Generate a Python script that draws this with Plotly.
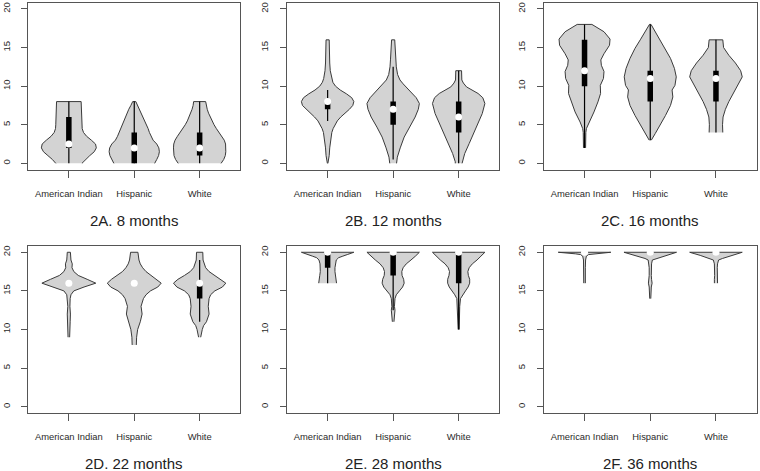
import plotly.graph_objects as go

groups = ["American Indian", "Hispanic", "White"]
panel_titles = ["2A. 8 months", "2B. 12 months", "2C. 16 months",
                "2D. 22 months", "2E. 28 months", "2F. 36 months"]
y_ticks = [0, 5, 10, 15, 20]

# Density profiles: (score, relative density 0..1)
A_american_indian = [(0, 0.5), (0.5, 0.63), (1, 0.8), (1.5, 0.97), (2, 1.05), (2.5, 1.02), (3, 0.86), (3.5, 0.68),
                     (4, 0.56), (4.5, 0.51), (5, 0.5), (6, 0.49), (7, 0.48), (8, 0.47)]
A_hispanic = [(0, 0.78), (0.5, 0.86), (1, 0.93), (1.5, 0.96), (2, 0.94), (2.5, 0.86), (3, 0.72), (3.5, 0.64),
              (4, 0.58), (4.5, 0.53), (5, 0.48), (5.5, 0.42), (6, 0.35), (6.5, 0.28), (7, 0.21), (7.5, 0.13), (8, 0.06)]
A_white = [(0, 0.82), (0.5, 0.92), (1, 0.98), (1.5, 1.0), (2, 1.0), (2.5, 0.99), (3, 0.94), (3.5, 0.85), (4, 0.74),
           (4.5, 0.64), (5, 0.55), (5.5, 0.47), (6, 0.4), (6.5, 0.34), (7, 0.29), (7.5, 0.25), (8, 0.23)]

B_american_indian = [(0, 0.01), (0.5, 0.04), (1, 0.06), (2, 0.08), (3, 0.11), (4, 0.16), (4.5, 0.21), (5, 0.28),
                     (5.5, 0.37), (6, 0.5), (6.5, 0.66), (7, 0.83), (7.5, 0.96), (8, 1.0), (8.5, 0.92), (9, 0.72),
                     (9.5, 0.48), (10, 0.3), (10.5, 0.2), (11, 0.15), (12, 0.1), (13, 0.08), (14, 0.07), (15, 0.06),
                     (16, 0.06)]
B_hispanic = [(0, 0.13), (0.8, 0.16), (2, 0.27), (3.4, 0.42), (4.7, 0.62), (6, 0.84), (7, 0.96), (7.75, 1.0),
              (8.5, 0.88), (9.5, 0.62), (10.3, 0.38), (10.8, 0.26), (11.5, 0.17), (12.5, 0.12), (13.5, 0.1),
              (14.5, 0.08), (15.5, 0.07), (16, 0.06)]
B_white = [(0, 0.13), (0.2, 0.13), (1.26, 0.23), (2.56, 0.4), (3.86, 0.58), (5.15, 0.74), (6.45, 0.9), (7.75, 1.0),
           (8.5, 0.92), (9.05, 0.74), (9.5, 0.5), (9.9, 0.3), (10.4, 0.18), (10.8, 0.12), (12, 0.11)]

C_american_indian = [(2, 0.04), (3, 0.04), (4, 0.05), (4.5, 0.07), (5.36, 0.17), (6.66, 0.36), (7.96, 0.51),
                     (9.05, 0.61), (10.1, 0.6), (11.0, 0.72), (11.9, 0.74), (12.7, 0.64), (13.4, 0.62), (14.2, 0.74),
                     (15.3, 0.95), (16.1, 0.97), (17.05, 0.74), (18, 0.28)]
C_hispanic = [(3, 0.04), (3.86, 0.19), (4.9, 0.38), (6.2, 0.58), (7.5, 0.77), (8.6, 0.86), (9.5, 0.83),
              (10.1, 0.94), (11.2, 0.99), (12.3, 0.92), (13.6, 0.77), (14.9, 0.58), (16.0, 0.38), (17.05, 0.19),
              (18, 0.03)]
C_white = [(4, 0.26), (5, 0.25), (6, 0.27), (7, 0.36), (8, 0.49), (9, 0.64), (10, 0.81), (11.2, 1.0), (12, 0.94),
           (13, 0.74), (14, 0.49), (15, 0.29), (16, 0.26)]

D_american_indian = [(9, 0.03), (10, 0.04), (11, 0.05), (12, 0.06), (13, 0.04), (14, 0.05), (14.5, 0.08),
                     (15, 0.19), (15.5, 0.58), (16, 1.03), (16.5, 0.7), (17, 0.36), (17.5, 0.19), (18, 0.12),
                     (18.5, 0.13), (19, 0.08), (19.5, 0.07), (20, 0.06)]
D_hispanic = [(8, 0.08), (9, 0.09), (10, 0.13), (11, 0.23), (12, 0.3), (13, 0.26), (14, 0.35), (14.5, 0.45),
              (15, 0.62), (15.5, 0.9), (16, 1.03), (16.5, 0.87), (17, 0.64), (17.5, 0.45), (18, 0.32), (18.5, 0.23),
              (19, 0.18), (20, 0.14)]
D_white = [(9, 0.04), (9.5, 0.06), (10, 0.1), (10.5, 0.15), (11, 0.26), (12, 0.36), (13, 0.33), (14, 0.36),
           (14.5, 0.42), (15, 0.58), (15.5, 0.87), (16, 1.0), (16.5, 0.83), (17, 0.58), (17.5, 0.36), (18, 0.23),
           (19, 0.13), (20, 0.12)]

E_american_indian = [(16, 0.34), (16.5, 0.33), (17, 0.3), (17.5, 0.28), (18, 0.28), (18.5, 0.29), (19, 0.33),
                     (19.3, 0.42), (19.5, 0.58), (19.7, 0.75), (19.85, 0.9), (20, 1.0)]
E_hispanic = [(11, 0.03), (11.5, 0.04), (12, 0.06), (12.5, 0.07), (13, 0.05), (13.5, 0.05), (14, 0.07),
              (14.5, 0.12), (15, 0.24), (15.5, 0.36), (16, 0.42), (16.5, 0.4), (17, 0.34), (17.5, 0.33), (18, 0.38),
              (18.5, 0.5), (19, 0.68), (19.5, 0.85), (19.8, 0.95), (20, 1.0)]
E_white = [(10, 0.02), (11, 0.03), (12, 0.03), (13, 0.04), (14, 0.07), (14.5, 0.15), (15, 0.26), (15.5, 0.36),
           (16, 0.42), (16.5, 0.42), (17, 0.37), (17.5, 0.35), (18, 0.4), (18.5, 0.52), (19, 0.7), (19.5, 0.85),
           (19.8, 0.95), (20, 1.0)]

F_american_indian = [(16, 0.03), (17, 0.03), (18, 0.03), (19, 0.04), (19.5, 0.07), (19.7, 0.15), (19.8, 0.35),
                     (19.9, 0.7), (20, 1.0)]
F_hispanic = [(14, 0.02), (15, 0.03), (15.5, 0.04), (16, 0.07), (16.5, 0.05), (17, 0.04), (18, 0.04),
              (18.5, 0.05), (19, 0.08), (19.2, 0.2), (19.4, 0.4), (19.6, 0.6), (19.8, 0.8), (20, 1.0)]
F_white = [(16, 0.06), (16.2, 0.07), (16.5, 0.06), (17, 0.05), (18, 0.05), (18.5, 0.06), (19, 0.1), (19.2, 0.25),
           (19.4, 0.42), (19.6, 0.6), (19.8, 0.8), (20, 1.0)]

# Box statistics per panel, order: American Indian, Hispanic, White
A_q1, A_median, A_q3, A_lo, A_hi = [2, 0, 1], [2.5, 2, 2], [6, 4, 4], [0, 0, 0], [8, 8, 8]
B_q1, B_median, B_q3, B_lo, B_hi = [7, 5, 4], [8, 7, 6], [8, 8, 8], [5.5, 0.5, 0], [9.5, 12.5, 12]
C_q1, C_median, C_q3, C_lo, C_hi = [10, 8, 8], [12, 11, 11], [16, 12, 12], [2, 3, 4], [18, 18, 16]
D_q1, D_median, D_q3, D_lo, D_hi = [16, 16, 14], [16, 16, 16], [16, 16, 16], [16, 16, 11], [16, 16, 19]
E_q1, E_median, E_q3, E_lo, E_hi = [18, 17, 16], [20, 20, 20], [20, 20, 20], [16, 12.5, 10], [20, 20, 20]
F_q1, F_median, F_q3, F_lo, F_hi = [20, 20, 20], [20, 20, 20], [20, 20, 20], [20, 20, 20], [20, 20, 20]

panels = [
    ([A_american_indian, A_hispanic, A_white], A_q1, A_median, A_q3, A_lo, A_hi),
    ([B_american_indian, B_hispanic, B_white], B_q1, B_median, B_q3, B_lo, B_hi),
    ([C_american_indian, C_hispanic, C_white], C_q1, C_median, C_q3, C_lo, C_hi),
    ([D_american_indian, D_hispanic, D_white], D_q1, D_median, D_q3, D_lo, D_hi),
    ([E_american_indian, E_hispanic, E_white], E_q1, E_median, E_q3, E_lo, E_hi),
    ([F_american_indian, F_hispanic, F_white], F_q1, F_median, F_q3, F_lo, F_hi),
]

W, H = 760, 471
HALF_WIDTH = 0.4
FILL = "#d3d3d3"
OUTLINE = "#3a3a3a"
AXIS = "#555555"
FONT = "Liberation Sans, Arial, sans-serif"

col_domains = [[28.3 / W, 240.2 / W], [287.0 / W, 499.3 / W], [543.8 / W, 756.7 / W]]
row_domains = [[1 - 169.5 / H, 1 - 2.8 / H], [1 - 412.9 / H, 1 - 246.1 / H]]
title_y = [1 - 220 / H, 1 - 463 / H]

fig = go.Figure()
layout = dict(width=W, height=H, margin=dict(l=0, r=0, t=0, b=0), autosize=False,
              paper_bgcolor="white", plot_bgcolor="white", showlegend=False,
              font=dict(family=FONT, color="#333333"), annotations=[])

for k, (profiles, q1, med, q3, lo, hi) in enumerate(panels):
    n = k + 1
    sfx = "" if n == 1 else str(n)
    xa, ya = "x" + sfx, "y" + sfx
    row, col = divmod(k, 3)
    for g, prof in enumerate(profiles):
        c = g + 1
        ys = [p[0] for p in prof]
        ws = [p[1] * HALF_WIDTH for p in prof]
        xs = [c - w for w in ws] + [c + w for w in reversed(ws)]
        yy = ys + ys[::-1]
        fig.add_trace(go.Scatter(x=xs, y=yy, mode="lines", fill="toself", fillcolor=FILL,
                                 line=dict(color=OUTLINE, width=1), xaxis=xa, yaxis=ya, hoverinfo="skip"))
        fig.add_trace(go.Scatter(x=[c, c], y=[lo[g], hi[g]], mode="lines",
                                 line=dict(color="black", width=1.2), xaxis=xa, yaxis=ya, hoverinfo="skip"))
        fig.add_trace(go.Scatter(x=[c, c], y=[q1[g], q3[g]], mode="lines",
                                 line=dict(color="black", width=5.5), xaxis=xa, yaxis=ya, hoverinfo="skip"))
        fig.add_trace(go.Scatter(x=[c], y=[med[g]], mode="markers",
                                 marker=dict(color="white", size=7, line=dict(width=0)),
                                 xaxis=xa, yaxis=ya, hoverinfo="skip"))
    common = dict(showline=True, mirror=True, linecolor=AXIS, linewidth=1, ticks="outside",
                  tickcolor=AXIS, showgrid=False, zeroline=False)
    layout["xaxis" + sfx] = dict(domain=col_domains[col], range=[0.38, 3.62], tickvals=[1, 2, 3],
                                 ticktext=groups, anchor=ya, ticklen=7, ticklabelstandoff=8,
                                 tickfont=dict(family=FONT, size=9.4, color="#2a2a2a"), **common)
    layout["yaxis" + sfx] = dict(domain=row_domains[row], range=[-0.8, 20.8], tickvals=y_ticks,
                                 ticktext=[str(t) for t in y_ticks], tickangle=-90, anchor=xa,
                                 ticklen=6, ticklabelstandoff=8,
                                 tickfont=dict(family=FONT, size=9.5, color="#2a2a2a"), **common)
    layout["annotations"].append(dict(text=panel_titles[k], xref="paper", yref="paper",
                                      x=sum(col_domains[col]) / 2, y=title_y[row],
                                      xanchor="center", yanchor="middle", showarrow=False,
                                      font=dict(family=FONT, size=15, color="#222222")))

fig.update_layout(**layout)
fig.write_html("out.html", config={"displayModeBar": False},
               post_script="document.body.style.margin='0';document.body.style.overflow='hidden';")
